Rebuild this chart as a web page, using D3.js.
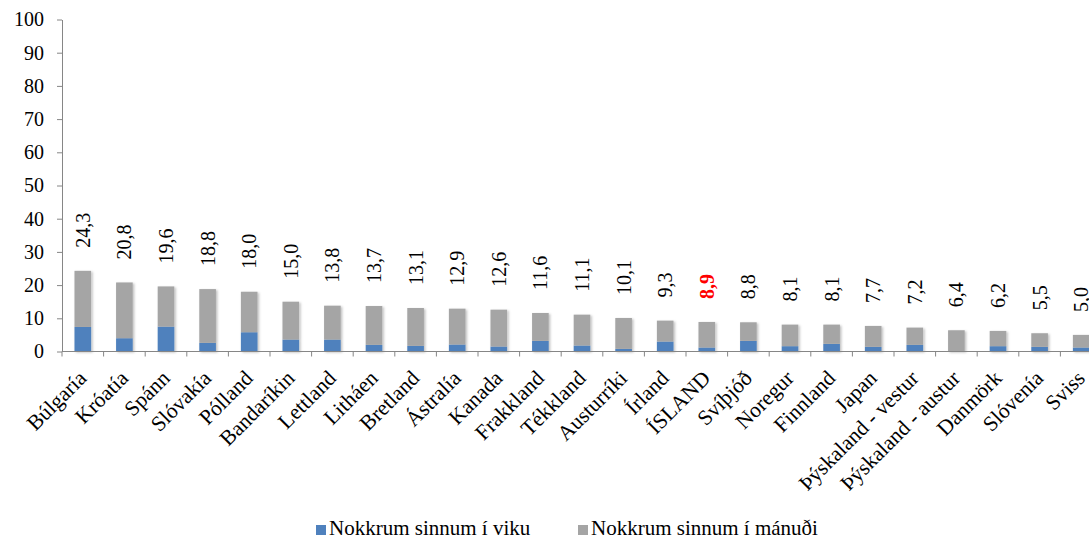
<!DOCTYPE html>
<html>
<head>
<meta charset="utf-8">
<script src="https://cdn.jsdelivr.net/npm/d3@7"></script>
<style>
  body { margin: 0; background: #fff; }
  svg text { font-family: "Liberation Serif", "Times New Roman", serif; fill: #000; }
</style>
</head>
<body>
<div id="chart"></div>
<script>
// categories and values
var countries = ["Búlgaría", "Króatía", "Spánn", "Slóvakía", "Pólland", "Bandaríkin", "Lettland",
    "Litháen", "Bretland", "Ástralía", "Kanada", "Frakkland", "Tékkland", "Austurríki", "Írland",
    "ÍSLAND", "Svíþjóð", "Noregur", "Finnland", "Japan", "Þýskaland - vestur", "Þýskaland - austur",
    "Danmörk", "Slóvenía", "Sviss"];
var weekly = [7.4, 4.0, 7.5, 2.6, 5.8, 3.6, 3.6, 2.0, 1.7, 2.1, 1.5, 3.2, 1.8, 0.8, 3.0,
    1.2, 3.2, 1.6, 2.3, 1.4, 2.0, 0.0, 1.6, 1.4, 1.2];
var monthly = [16.9, 16.8, 12.1, 16.2, 12.2, 11.4, 10.2, 11.7, 11.4, 10.8, 11.1, 8.4, 9.3, 9.3, 6.3,
    7.7, 5.6, 6.5, 5.8, 6.3, 5.2, 6.4, 4.6, 4.1, 3.8];
var seriesNames = ["Nokkrum sinnum í viku", "Nokkrum sinnum í mánuði"];
var colors = ["#4f81bd", "#a5a5a5"];
var yTicks = [0, 10, 20, 30, 40, 50, 60, 70, 80, 90, 100];
var highlight = "ÍSLAND";

var width = 1089, height = 539;
var plotLeft = 62, plotTop = 19.5, plotBottom = 351.5, plotRight = 1102;

var svg = d3.select("#chart").append("svg")
    .attr("width", width)
    .attr("height", height);

// faint shadow like the office chart
var shadow = svg.append("defs").append("filter")
    .attr("id", "shadow")
    .attr("x", "-20%").attr("y", "-5%").attr("width", "150%").attr("height", "115%");
shadow.append("feDropShadow")
    .attr("dx", 1.5).attr("dy", 1)
    .attr("stdDeviation", 1)
    .attr("flood-color", "#000")
    .attr("flood-opacity", 0.25);

var x = d3.scaleBand()
    .domain(countries)
    .range([plotLeft, plotRight])
    .paddingInner(0.6)
    .paddingOuter(0.3);

var y = d3.scaleLinear()
    .domain([0, 100])
    .range([plotBottom, plotTop]);

var rows = countries.map(function(c, i) {
    return { country: c, weekly: weekly[i], monthly: monthly[i] };
});
var stacked = d3.stack().keys(["weekly", "monthly"])(rows);

// stacked bars
svg.append("g")
    .attr("filter", "url(#shadow)")
    .selectAll("g")
    .data(stacked)
    .enter().append("g")
    .attr("fill", function(d, i) { return colors[i]; })
    .selectAll("rect")
    .data(function(d) { return d; })
    .enter().append("rect")
    .attr("x", function(d) { return x(d.data.country); })
    .attr("y", function(d) { return y(d[1]); })
    .attr("width", x.bandwidth())
    .attr("height", function(d) { return y(d[0]) - y(d[1]); });

// y axis
var yAxis = svg.append("g")
    .attr("transform", "translate(" + plotLeft + ",0)")
    .call(d3.axisLeft(y).tickValues(yTicks).tickSize(5).tickPadding(13).tickSizeOuter(0));
yAxis.select(".domain").attr("stroke", "#868686");
yAxis.selectAll(".tick line").attr("stroke", "#868686");
yAxis.selectAll(".tick text").attr("font-size", "20px").attr("font-family", "Liberation Serif").attr("fill", "#000");

// x axis with ticks between categories
var xg = svg.append("g");
xg.append("line")
    .attr("x1", plotLeft).attr("x2", plotRight)
    .attr("y1", plotBottom).attr("y2", plotBottom)
    .attr("stroke", "#868686");
xg.selectAll(".xt")
    .data(d3.range(countries.length + 1))
    .enter().append("line")
    .attr("x1", function(i) { return plotLeft + i * x.step(); })
    .attr("x2", function(i) { return plotLeft + i * x.step(); })
    .attr("y1", plotBottom).attr("y2", plotBottom + 5)
    .attr("stroke", "#868686");

xg.selectAll(".xl")
    .data(countries)
    .enter().append("text")
    .attr("text-anchor", "end")
    .attr("font-size", "21.5px")
    .attr("transform", function(d) {
        return "translate(" + (x(d) + x.bandwidth() / 2 + 5) + "," + (plotBottom + 28) + ") rotate(-45)";
    })
    .text(function(d) { return d; });

// total labels above bars
svg.append("g").selectAll("text")
    .data(rows)
    .enter().append("text")
    .attr("transform", function(d) {
        return "translate(" + (x(d.country) + x.bandwidth() / 2) + "," + (y(d.weekly + d.monthly) - 23) + ") rotate(-90)";
    })
    .attr("dy", "0.35em")
    .attr("font-size", "20px")
    .attr("font-weight", function(d) { return d.country === highlight ? "bold" : null; })
    .style("fill", function(d) { return d.country === highlight ? "#ff0000" : "#000"; })
    .text(function(d) { return d3.format(".1f")(d.weekly + d.monthly).replace(".", ","); });

// legend
var legendX = [316, 578];
var legend = svg.append("g").selectAll("g")
    .data(seriesNames)
    .enter().append("g")
    .attr("transform", function(d, i) { return "translate(" + legendX[i] + ",525)"; });
legend.append("rect")
    .attr("width", 10).attr("height", 10)
    .attr("fill", function(d, i) { return colors[i]; });
legend.append("text")
    .attr("x", 13)
    .attr("y", 10)
    .attr("font-size", "21px")
    .text(function(d) { return d; });
</script>
</body>
</html>
